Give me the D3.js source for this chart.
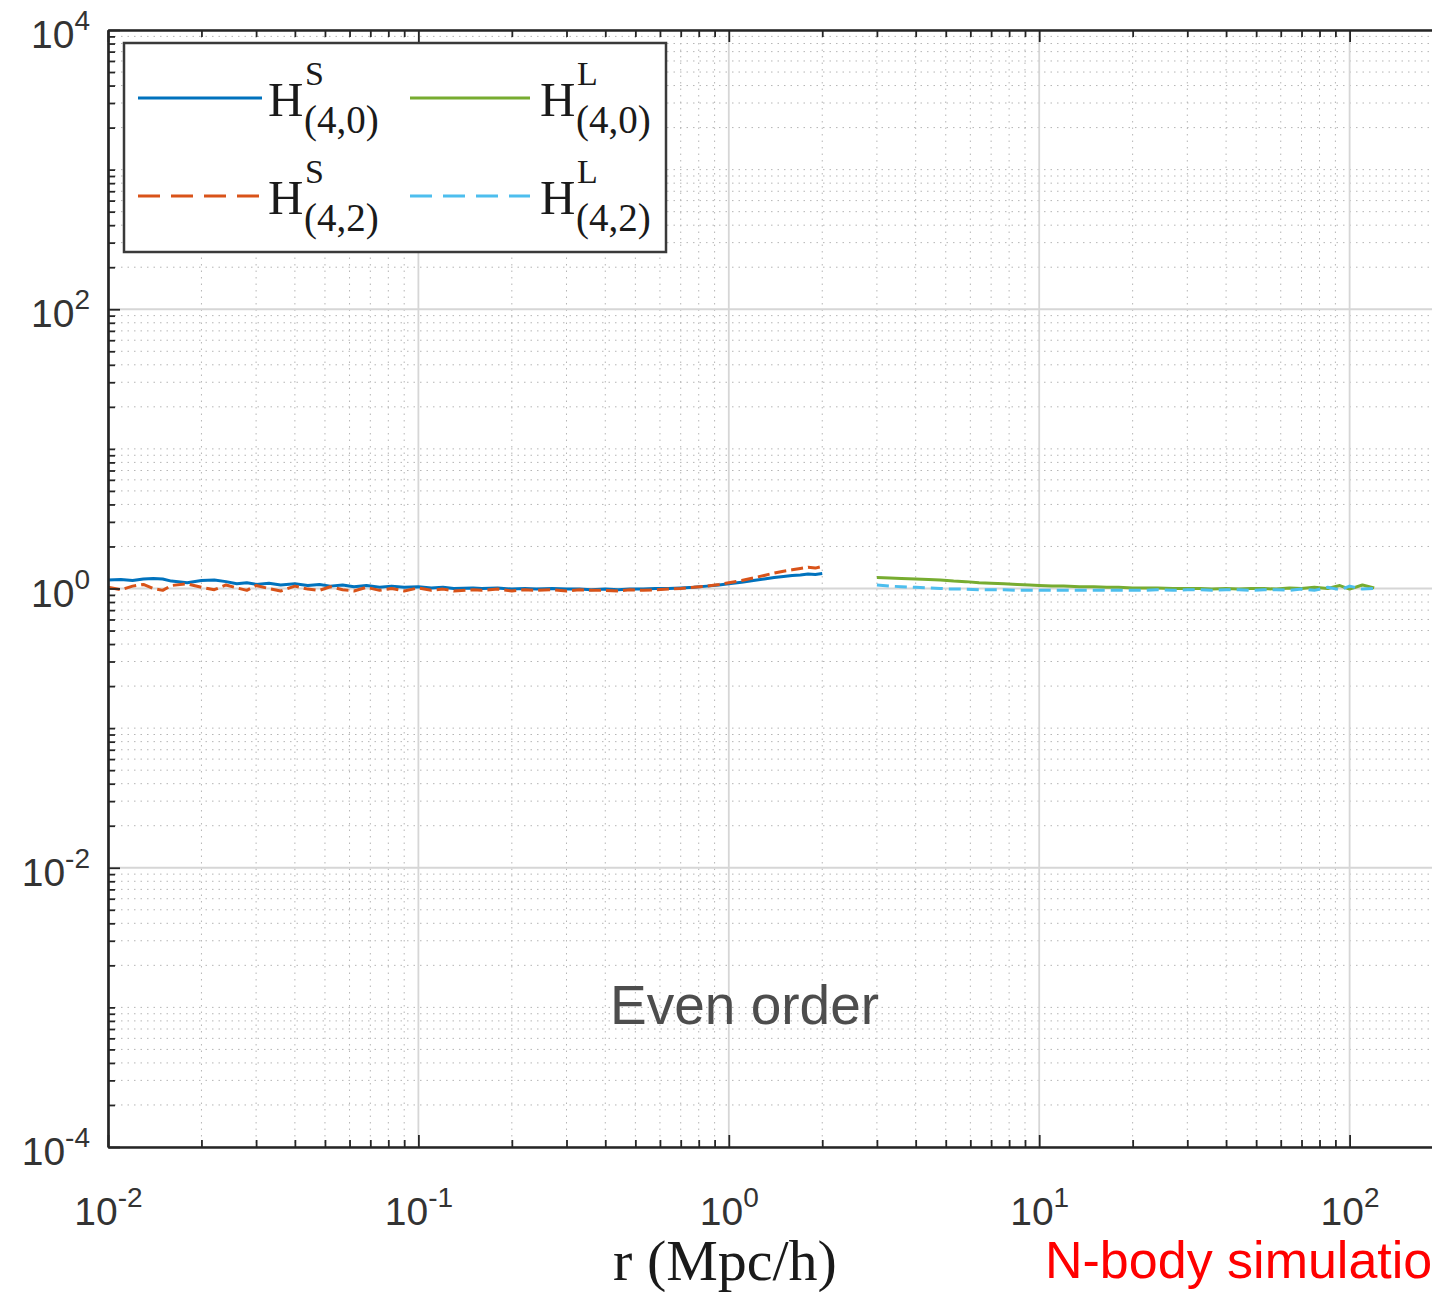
<!DOCTYPE html>
<html>
<head>
<meta charset="utf-8">
<script src="https://cdnjs.cloudflare.com/ajax/libs/d3/7.8.5/d3.min.js"></script>
<style>
  html, body { margin: 0; padding: 0; background: #fff; overflow: hidden; }
  svg { display: block; }
</style>
</head>
<body>
<svg id="chart" width="1432" height="1292"></svg>
<script>
// ---------- DATA ----------
const rSmall = [0.010,0.011,0.012,0.013,0.014,0.015,0.016,0.018,0.020,0.022,0.024,0.026,0.028,0.030,0.033,0.036,0.040,0.044,0.048,0.052,0.057,0.062,0.068,0.075,0.082,0.090,0.10,0.11,0.12,0.13,0.15,0.16,0.18,0.20,0.22,0.24,0.27,0.30,0.33,0.36,0.40,0.44,0.48,0.53,0.58,0.64,0.70,0.77,0.85,0.93,1.0,1.1,1.2,1.3,1.4,1.5,1.6,1.7,1.8,1.9,2.0];
const hS40 = [1.15,1.16,1.14,1.17,1.18,1.17,1.13,1.10,1.14,1.15,1.12,1.08,1.10,1.07,1.09,1.06,1.08,1.05,1.07,1.04,1.06,1.03,1.05,1.02,1.04,1.02,1.03,1.01,1.02,1.00,1.01,1.00,1.01,0.99,1.00,0.99,1.00,0.99,0.99,0.98,0.99,0.98,0.99,0.99,1.00,1.00,1.01,1.02,1.04,1.06,1.08,1.11,1.14,1.17,1.20,1.22,1.24,1.25,1.27,1.26,1.28];
const hS42 = [1.02,0.98,1.04,1.07,1.00,0.97,1.05,1.08,1.02,0.98,1.06,1.01,0.97,1.05,1.00,0.96,1.04,0.99,0.97,1.03,0.98,0.96,1.02,0.97,1.00,0.96,1.01,0.97,0.99,0.96,0.98,0.97,0.99,0.96,0.98,0.97,0.98,0.96,0.98,0.97,0.97,0.96,0.98,0.97,0.98,0.99,1.00,1.02,1.04,1.07,1.10,1.14,1.19,1.24,1.29,1.33,1.36,1.39,1.42,1.40,1.44];
const rLarge = [3.0,3.3,3.6,4.0,4.4,4.8,5.3,5.8,6.4,7.0,7.7,8.5,9.3,10,11,12,13.5,15,16.5,18,20,22,24,27,30,33,36,40,44,48,53,58,64,70,77,85,93,100,110,120];
const hL40 = [1.20,1.19,1.18,1.17,1.16,1.15,1.13,1.12,1.10,1.09,1.08,1.07,1.06,1.05,1.04,1.04,1.03,1.03,1.02,1.02,1.01,1.01,1.01,1.00,1.00,1.00,0.99,1.00,0.99,1.00,1.00,0.99,1.01,1.00,1.02,1.00,1.05,0.99,1.06,1.01];
const hL42 = [1.06,1.04,1.03,1.02,1.01,1.00,0.99,0.99,0.98,0.98,0.98,0.97,0.97,0.97,0.97,0.97,0.97,0.97,0.97,0.97,0.97,0.97,0.98,0.97,0.98,0.98,0.97,0.98,0.98,0.97,0.98,0.98,0.97,0.99,0.97,1.02,0.98,1.04,0.99,1.00];

const xTickExps = [-2,-1,0,1,2];
const yTickExps = [-4,-2,0,2,4];
const legendSup = ["S","L","S","L"];
const legendSub = ["(4,0)","(4,0)","(4,2)","(4,2)"];
const xTitle = "r (Mpc/h)";
const noteText = "Even order";
const sourceText = "N-body simulation";

// ---------- SETUP ----------
const svg = d3.select("#chart");
const L = 108, T = 30, B = 1147, R = 1660;
const x = d3.scaleLog().domain([1e-2, 1e3]).range([L, R]);
const y = d3.scaleLog().domain([1e-4, 1e4]).range([B, T]);

const xMajor = xTickExps.map(e => Math.pow(10, e));
const xMajorAll = xMajor.concat([1e3]);
const yMajor = yTickExps.map(e => Math.pow(10, e));
const xMinor = [];
for (let e = -2; e < 3; e++) for (let m = 2; m <= 9; m++) xMinor.push(m * Math.pow(10, e));
const yMinor = [];
for (let e = -4; e < 4; e++) {
  for (let m = 2; m <= 9; m++) yMinor.push(m * Math.pow(10, e));
  if (e % 2 !== 0) yMinor.push(Math.pow(10, e));
}

// ---------- GRID ----------
const grid = svg.append("g");
grid.selectAll(".gxm").data(xMinor).join("line")
  .attr("x1", d => x(d)).attr("x2", d => x(d)).attr("y1", T).attr("y2", B)
  .attr("stroke", "#b5b5b5").attr("stroke-width", 1).attr("stroke-dasharray", "1.5,5");
grid.selectAll(".gym").data(yMinor).join("line")
  .attr("y1", d => y(d)).attr("y2", d => y(d)).attr("x1", L).attr("x2", R)
  .attr("stroke", "#b5b5b5").attr("stroke-width", 1).attr("stroke-dasharray", "1.5,5");
grid.selectAll(".gxM").data(xMajorAll).join("line")
  .attr("x1", d => x(d)).attr("x2", d => x(d)).attr("y1", T).attr("y2", B)
  .attr("stroke", "#d6d6d6").attr("stroke-width", 1.8);
grid.selectAll(".gyM").data(yMajor).join("line")
  .attr("y1", d => y(d)).attr("y2", d => y(d)).attr("x1", L).attr("x2", R)
  .attr("stroke", "#d6d6d6").attr("stroke-width", 1.8);

// ---------- DATA LINES ----------
svg.append("clipPath").attr("id", "clip").append("rect")
  .attr("x", L).attr("y", T).attr("width", R - L).attr("height", B - T);
const line = d3.line().x(d => x(d[0])).y(d => y(d[1]));
const series = [
  { r: rSmall, v: hS40, color: "#0072BD", dash: null },
  { r: rSmall, v: hS42, color: "#D95319", dash: "12,5" },
  { r: rLarge, v: hL40, color: "#77AC30", dash: null },
  { r: rLarge, v: hL42, color: "#4DBEEE", dash: "12,6" }
];
const dataG = svg.append("g").attr("clip-path", "url(#clip)");
series.forEach(s => {
  dataG.append("path")
    .datum(s.r.map((r, i) => [r, s.v[i]]))
    .attr("d", line)
    .attr("fill", "none")
    .attr("stroke", s.color)
    .attr("stroke-width", 3)
    .attr("stroke-linejoin", "round")
    .attr("stroke-dasharray", s.dash);
});

// ---------- AXES ----------
const axisColor = "#262626";
function styleAxis(g) {
  g.select(".domain").attr("stroke", axisColor).attr("stroke-width", 2.2);
  g.selectAll(".tick line").attr("stroke", axisColor).attr("stroke-width", 1.8);
}
// minor ticks
svg.append("g").attr("transform", `translate(0,${B})`)
  .call(d3.axisBottom(x).tickValues(xMinor).tickSizeInner(-7).tickSizeOuter(0).tickFormat(""))
  .call(styleAxis);
svg.append("g").attr("transform", `translate(0,${T})`)
  .call(d3.axisTop(x).tickValues(xMinor).tickSizeInner(-7).tickSizeOuter(0).tickFormat(""))
  .call(styleAxis);
svg.append("g").attr("transform", `translate(${L},0)`)
  .call(d3.axisLeft(y).tickValues(yMinor).tickSizeInner(-7).tickSizeOuter(0).tickFormat(""))
  .call(styleAxis);

// major ticks with labels
const xAx = svg.append("g").attr("transform", `translate(0,${B})`)
  .call(d3.axisBottom(x).tickValues(xMajor).tickSizeInner(-12).tickSizeOuter(0).tickFormat(() => "10"))
  .call(styleAxis);
xAx.selectAll(".tick text")
  .attr("y", 78).attr("dy", 0)
  .attr("font-family", "'Liberation Sans', Arial, sans-serif")
  .attr("font-size", 39).attr("fill", "#333")
  .attr("text-anchor", "middle")
  .append("tspan").attr("dy", -18).attr("font-size", 28)
  .text(d => Math.round(Math.log10(d)));

svg.append("g").attr("transform", `translate(0,${T})`)
  .call(d3.axisTop(x).tickValues(xMajor).tickSizeInner(-12).tickSizeOuter(0).tickFormat(""))
  .call(styleAxis);

const yAx = svg.append("g").attr("transform", `translate(${L},0)`)
  .call(d3.axisLeft(y).tickValues(yMajor).tickSizeInner(-12).tickSizeOuter(0).tickFormat(() => "10"))
  .call(styleAxis);
yAx.selectAll(".tick text")
  .attr("x", -18).attr("dy", "0.45em")
  .attr("font-family", "'Liberation Sans', Arial, sans-serif")
  .attr("font-size", 39).attr("fill", "#333")
  .attr("text-anchor", "end")
  .append("tspan").attr("dy", -18).attr("font-size", 28)
  .text(d => Math.round(Math.log10(d)));

// ---------- LEGEND ----------
const lg = svg.append("g");
lg.append("rect").attr("x", 124).attr("y", 43).attr("width", 542).attr("height", 209)
  .attr("fill", "#fff").attr("stroke", "#3a3a3a").attr("stroke-width", 2.5);
const legendOrder = [0, 2, 1, 3];
const slots = [
  { lx1: 138, lx2: 262, ly: 98, tx: 268 },
  { lx1: 410, lx2: 530, ly: 98, tx: 540 },
  { lx1: 138, lx2: 262, ly: 196, tx: 268 },
  { lx1: 410, lx2: 530, ly: 196, tx: 540 }
];
slots.forEach((sl, i) => {
  const s = series[legendOrder[i]];
  lg.append("line").attr("x1", sl.lx1).attr("x2", sl.lx2).attr("y1", sl.ly).attr("y2", sl.ly)
    .attr("stroke", s.color).attr("stroke-width", 3).attr("stroke-dasharray", s.dash ? "22,11" : null);
  const serif = "'Liberation Serif', 'Times New Roman', serif";
  lg.append("text").attr("x", sl.tx).attr("y", sl.ly + 18)
    .attr("font-family", serif).attr("font-size", 49).attr("fill", "#1a1a1a").text("H");
  lg.append("text").attr("x", sl.tx + 37).attr("y", sl.ly - 13)
    .attr("font-family", serif).attr("font-size", 34).attr("fill", "#1a1a1a").text(legendSup[i]);
  lg.append("text").attr("x", sl.tx + 36).attr("y", sl.ly + 35)
    .attr("font-family", serif).attr("font-size", 39).attr("fill", "#1a1a1a").text(legendSub[i]);
});

// ---------- TEXTS ----------
svg.append("text").attr("x", 725).attr("y", 1280).attr("text-anchor", "middle")
  .attr("font-family", "'Liberation Serif', 'Times New Roman', serif")
  .attr("font-size", 58).attr("fill", "#1a1a1a").text(xTitle);
svg.append("text").attr("x", 610).attr("y", 1024)
  .attr("font-family", "'Liberation Sans', Arial, sans-serif")
  .attr("font-size", 55).attr("fill", "#4d4d4d").text(noteText);
svg.append("text").attr("x", 1045).attr("y", 1278)
  .attr("font-family", "'Liberation Sans', Arial, sans-serif")
  .attr("font-size", 52).attr("fill", "#ff0000").text(sourceText);
</script>
</body>
</html>
